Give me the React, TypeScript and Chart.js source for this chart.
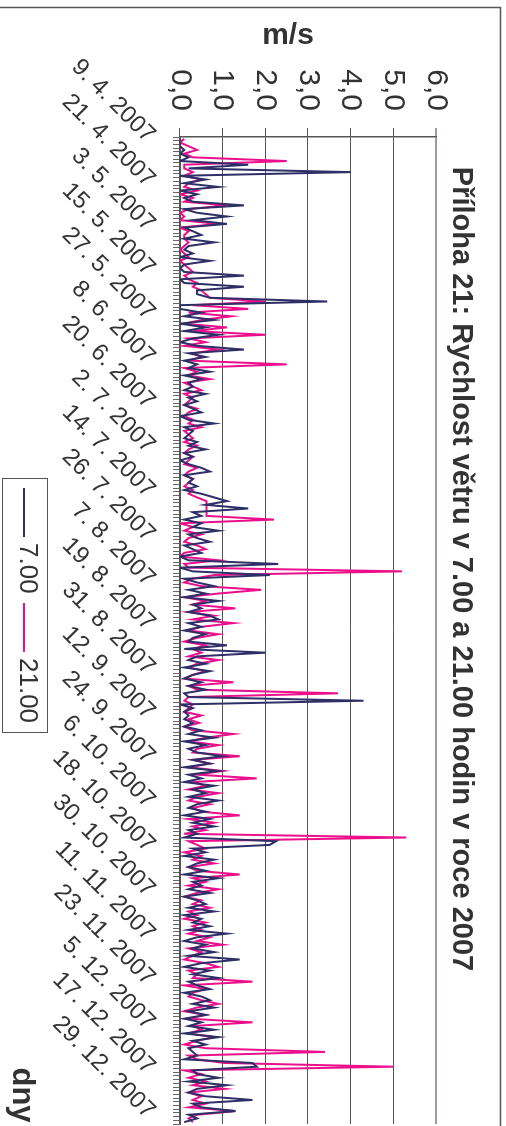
import React, { useEffect, useRef } from 'react';
import { Chart, registerables } from 'chart.js';

Chart.register(...registerables);

// Landscape drawing size; the whole figure is turned a quarter turn clockwise on the page.
const FIG_W = 1126;
const FIG_H = 506;

const FIRST_DAY = new Date(2007, 3, 9);
const DAY_COUNT = 267;
const LABEL_EVERY = 12;

const categories: string[] = [];
for (let i = 0; i < DAY_COUNT; i++) {
  const d = new Date(FIRST_DAY.getFullYear(), FIRST_DAY.getMonth(), FIRST_DAY.getDate() + i);
  categories.push(`${d.getDate()}. ${d.getMonth() + 1}. ${d.getFullYear()}`);
}

const yTicks = [0, 1, 2, 3, 4, 5, 6];

const seriesNames = ['7.00', '21.00'];
const seriesColors = ['#2e2f66', '#ec0f8c'];

// wind speed at 7:00 (m/s)
const morning: number[] = [
  0.0, 0.0, 0.0, 0.1, 0.0, 0.2, 0.0, 1.6, 0.2, 4.0,
  0.0, 0.6, 0.1, 0.9, 0.0, 0.4, 0.1, 0.3, 1.5, 0.1,
  0.4, 1.1, 0.3, 1.1, 0.1, 0.3, 0.5, 0.1, 0.8, 0.2,
  0.1, 0.3, 0.0, 0.7, 0.1, 0.0, 0.1, 1.5, 0.0, 0.1,
  1.5, 0.4, 0.4, 0.7, 3.45, 0.0, 0.0, 0.5, 0.1, 0.8,
  0.0, 0.6, 0.1, 0.9, 0.3, 0.0, 0.4, 1.5, 0.2, 0.6,
  0.1, 0.4, 0.2, 0.7, 0.1, 0.5, 0.2, 0.3, 0.1, 0.6,
  0.2, 0.4, 0.1, 0.3, 0.5, 0.0, 0.2, 0.8, 0.1, 0.3,
  0.2, 0.1, 0.4, 0.2, 0.6, 0.1, 0.3, 0.0, 0.2, 0.5,
  0.7, 0.1, 0.3, 0.2, 0.4, 0.1, 0.5, 0.8, 1.1, 0.6,
  1.6, 0.3, 0.5, 0.1, 0.5, 0.3, 0.9, 0.2, 0.4, 0.7,
  0.1, 0.3, 0.5, 0.0, 0.2, 2.3, 0.0, 0.3, 2.1, 0.1,
  0.4, 0.8, 0.2, 0.6, 0.1, 0.9, 0.3, 0.5, 0.2, 0.7,
  0.9, 0.2, 0.5, 0.1, 0.6, 0.3, 0.2, 1.1, 0.1, 2.0,
  0.4, 0.2, 0.6, 0.1, 0.7, 0.3, 0.1, 0.5, 0.2, 0.6,
  0.1, 0.2, 4.3, 0.0, 0.3, 0.1, 0.2, 0.1, 0.3, 0.1,
  0.5, 0.2, 0.8, 0.1, 0.6, 0.2, 0.4, 1.0, 0.3, 0.7,
  0.1, 0.9, 0.2, 0.5, 0.1, 0.8, 0.3, 0.6, 0.2, 0.9,
  0.4, 0.2, 0.6, 0.1, 0.7, 0.3, 0.8, 0.2, 0.4, 0.1,
  2.25, 2.1, 0.3, 0.6, 0.1, 0.8, 0.4, 0.2, 0.6, 0.1,
  0.9, 0.3, 0.5, 0.2, 0.7, 0.1, 0.4, 0.6, 0.2, 0.8,
  0.1, 0.5, 0.3, 0.7, 0.2, 1.1, 0.4, 0.1, 0.6, 0.3,
  0.8, 0.2, 1.4, 0.5, 0.1, 0.7, 0.3, 0.9, 0.2, 0.4,
  0.7, 0.1, 0.5, 0.7, 0.3, 0.8, 0.2, 0.6, 0.1, 0.5,
  0.2, 0.8, 0.1, 0.9, 0.3, 0.6, 0.2, 0.3, 0.4, 0.1,
  1.7, 1.8, 0.3, 0.4, 0.9, 0.2, 1.1, 0.4, 0.2, 0.6,
  1.7, 0.3, 0.5, 1.3, 0.2, 0.4, 0.1,
];

// wind speed at 21:00 (m/s)
const evening: number[] = [
  0.1, 0.0, 0.2, 0.4, 0.1, 0.3, 2.5, 0.1, 0.1, 0.3,
  0.1, 0.5, 0.2, 0.1, 0.4, 0.0, 0.3, 0.1, 1.1, 0.2,
  0.0, 0.1, 0.0, 0.9, 0.0, 0.2, 0.1, 0.1, 0.2, 0.1,
  0.0, 0.1, 0.2, 0.0, 0.1, 0.2, 0.3, 0.1, 0.2, 0.4,
  0.3, 0.5, 0.6, 0.7, 2.0, 0.3, 1.6, 0.2, 1.2, 0.5,
  0.1, 1.1, 0.3, 2.0, 0.2, 0.6, 0.1, 0.9, 0.3, 0.5,
  0.2, 2.5, 0.1, 0.4, 0.2, 0.7, 0.1, 0.3, 0.5, 0.1,
  0.3, 0.2, 0.1, 0.4, 0.2, 0.1, 0.3, 0.2, 0.5, 0.1,
  0.2, 0.3, 0.1, 0.4, 0.2, 0.1, 0.3, 0.2, 0.1, 0.4,
  0.2, 0.1, 0.3, 0.2, 0.1, 0.3, 0.2, 0.4, 0.62, 0.62,
  0.62, 0.62, 0.62, 2.2, 0.0, 0.3, 0.1, 0.5, 0.2, 0.1,
  0.4, 0.6, 0.1, 0.0, 0.9, 0.1, 0.2, 5.2, 0.8, 0.3,
  0.1, 0.5, 1.9, 0.9, 0.1, 0.6, 0.3, 1.3, 0.2, 0.8,
  0.3, 1.25, 0.5, 0.2, 0.9, 0.4, 0.1, 0.6, 0.3, 0.5,
  0.2, 0.9, 0.4, 0.2, 0.6, 0.3, 0.1, 1.25, 0.2, 0.4,
  3.7, 0.2, 0.1, 0.3, 0.2, 0.1, 0.5, 0.2, 0.45, 0.1,
  0.3, 1.25, 0.6, 0.2, 0.9, 0.4, 0.3, 1.4, 0.3, 0.7,
  0.2, 1.0, 0.4, 1.8, 0.3, 0.6, 0.2, 0.9, 0.4, 0.2,
  0.7, 0.3, 0.5, 1.4, 0.2, 0.8, 0.3, 0.6, 0.1, 5.3,
  0.2, 0.4, 0.6, 0.1, 0.5, 0.3, 0.8, 0.2, 0.4, 1.4,
  0.3, 0.6, 0.2, 0.9, 0.4, 0.1, 0.5, 0.3, 0.7, 0.2,
  0.4, 0.1, 0.6, 0.3, 0.5, 0.2, 0.7, 0.4, 1.0, 0.2,
  0.5, 0.3, 0.1, 0.6, 0.9, 0.2, 0.4, 0.3, 1.7, 0.1,
  0.6, 0.3, 0.2, 0.5, 0.9, 0.4, 0.1, 0.6, 0.2, 1.7,
  0.3, 0.5, 0.2, 0.8, 0.4, 0.1, 0.6, 3.4, 0.2, 0.4,
  1.05, 5.0, 0.1, 0.5, 0.2, 0.6, 0.3, 1.05, 0.2, 0.5,
  0.3, 0.6, 0.2, 1.3, 0.4, 0.2, 0.3,
];

const FONT = "'Liberation Sans', Arial, Helvetica, sans-serif";
const TEXT = '#333333';
const GRID = '#555555';
const PLOT_EDGE = '#a59a9a';

const decorations = {
  id: 'decorations',
  afterDraw(chart: Chart) {
    const ctx = chart.ctx;
    ctx.save();
    // outer frame
    ctx.strokeStyle = '#555555';
    ctx.lineWidth = 1.5;
    ctx.beginPath();
    ctx.moveTo(7.5, FIG_H + 10);
    ctx.lineTo(7.5, 5.5);
    ctx.lineTo(FIG_W + 10, 5.5);
    ctx.stroke();

    // title
    ctx.fillStyle = TEXT;
    ctx.textAlign = 'center';
    ctx.textBaseline = 'alphabetic';
    ctx.font = `bold 29px ${FONT}`;
    ctx.fillText('Příloha 21: Rychlost větru v 7.00 a 21.00 hodin v roce 2007', 569, 53);

    // value axis title (vertical)
    ctx.save();
    ctx.translate(44, 218);
    ctx.rotate(-Math.PI / 2);
    ctx.font = `bold 30px ${FONT}`;
    ctx.textAlign = 'center';
    ctx.fillText('m/s', 0, 0);
    ctx.restore();

    // category axis title
    ctx.font = `bold 31px ${FONT}`;
    ctx.textAlign = 'center';
    ctx.fillText('dny', 1095, 493);

    // legend
    const lx = 478.5, ly = 458.5, lw = 254, lh = 45;
    ctx.fillStyle = '#ffffff';
    ctx.fillRect(lx, ly, lw, lh);
    ctx.strokeStyle = '#555555';
    ctx.lineWidth = 1;
    ctx.strokeRect(lx, ly, lw, lh);
    const items = chart.data.datasets;
    const starts = [488, 603];
    ctx.font = `26px ${FONT}`;
    ctx.textAlign = 'left';
    ctx.textBaseline = 'middle';
    items.forEach((ds, i) => {
      const x0 = starts[i];
      ctx.strokeStyle = ds.borderColor as string;
      ctx.lineWidth = 2;
      ctx.beginPath();
      ctx.moveTo(x0, 482);
      ctx.lineTo(x0 + 49, 482);
      ctx.stroke();
      ctx.fillStyle = TEXT;
      ctx.fillText(String(ds.label), x0 + 55, 479);
    });
    ctx.restore();
  },
};

export default function App() {
  const canvasRef = useRef<HTMLCanvasElement | null>(null);

  useEffect(() => {
    const canvas = canvasRef.current;
    if (!canvas) return;
    const chart = new Chart(canvas, {
      type: 'line',
      data: {
        labels: categories,
        datasets: [
          {
            label: seriesNames[0],
            data: morning,
            borderColor: seriesColors[0],
            borderWidth: 2,
            pointRadius: 0,
            tension: 0,
          },
          {
            label: seriesNames[1],
            data: evening,
            borderColor: seriesColors[1],
            borderWidth: 2,
            pointRadius: 0,
            tension: 0,
          },
        ],
      },
      options: {
        responsive: false,
        animation: false,
        devicePixelRatio: 1,
        layout: { padding: { left: 0, top: 70, right: 2, bottom: 0 } },
        plugins: {
          legend: { display: false },
          title: { display: false },
          tooltip: { enabled: false },
        },
        scales: {
          x: {
            type: 'category',
            offset: true,
            border: { display: true, color: GRID, width: 1.5 },
            grid: {
              display: true,
              offset: true,
              drawOnChartArea: false,
              drawTicks: true,
              tickLength: 7,
              color: '#666666',
              lineWidth: 1,
            },
            ticks: {
              autoSkip: false,
              minRotation: 45,
              maxRotation: 45,
              padding: 12,
              color: TEXT,
              font: { family: FONT, size: 24 },
              callback: (_v, i) => (i % LABEL_EVERY === 0 ? categories[i] : ''),
            },
            afterFit: (scale) => {
              scale.height = FIG_H - 326;
              scale.paddingLeft = 0;
              scale.paddingRight = 0;
            },
          },
          y: {
            type: 'linear',
            min: yTicks[0],
            max: yTicks[yTicks.length - 1],
            afterBuildTicks: (scale) => {
              scale.ticks = yTicks.map((v) => ({ value: v }));
            },
            border: { display: true, color: GRID, width: 1.5 },
            grid: {
              display: true,
              drawOnChartArea: true,
              drawTicks: true,
              tickLength: 9,
              color: (c) => (c.tick && c.tick.value === 6 ? PLOT_EDGE : GRID),
              lineWidth: (c) => (c.tick && c.tick.value === 6 ? 2 : 1),
            },
            ticks: {
              padding: 17,
              color: TEXT,
              font: { family: FONT, size: 30 },
              callback: (v) => Number(v).toFixed(1).replace('.', ','),
            },
            afterFit: (scale) => {
              scale.width = 137;
              scale.paddingTop = 0;
              scale.paddingBottom = 0;
            },
          },
        },
      },
      plugins: [decorations],
    });
    return () => chart.destroy();
  }, []);

  return (
    <div
      style={{
        position: 'absolute',
        left: 0,
        top: 0,
        width: FIG_W,
        height: FIG_H,
        background: '#ffffff',
        transformOrigin: '0 0',
        transform: `translate(${FIG_H}px, 0px) rotate(90deg)`,
      }}
    >
      <canvas ref={canvasRef} width={FIG_W} height={FIG_H} style={{ display: 'block' }} />
    </div>
  );
}
